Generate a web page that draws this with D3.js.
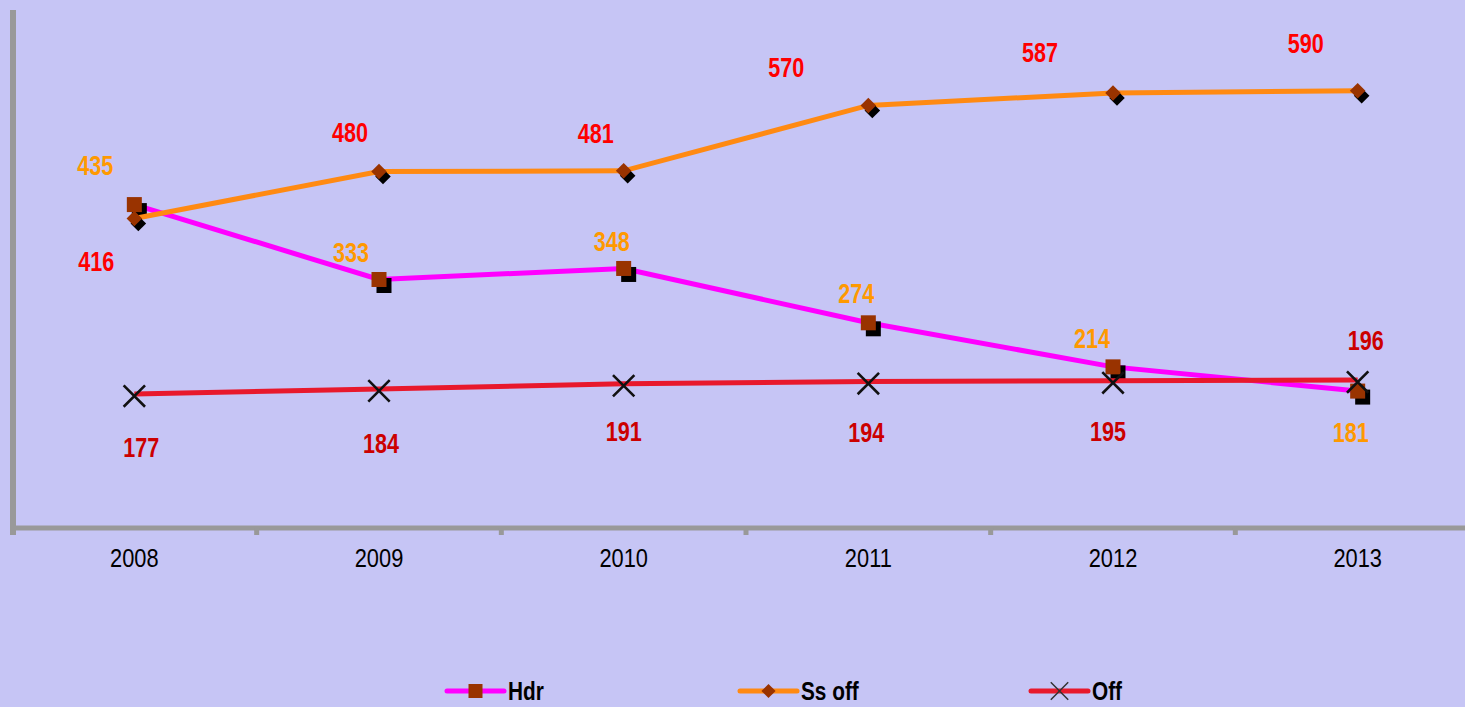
<!DOCTYPE html>
<html>
<head>
<meta charset="utf-8">
<script src="https://cdn.jsdelivr.net/npm/d3@7"></script>
<style>
  html, body { margin: 0; padding: 0; background: #c6c5f5; }
  svg { display: block; }
</style>
</head>
<body>
<svg id="chart" width="1465" height="707"></svg>
<script>
// ---- data ----
const years = ["2008", "2009", "2010", "2011", "2012", "2013"];
const hdr = [435, 333, 348, 274, 214, 181];
const ssOff = [416, 480, 481, 570, 587, 590];
const off = [177, 184, 191, 194, 195, 196];
const seriesNames = ["Hdr", "Ss off", "Off"];

// ---- label layout offsets (relative to the point, in px) ----
const hdrLabelOffsets = [[-39, -39], [-28, -27], [-12, -27], [-12, -29], [-21, -28], [-7, 42]];
const ssLabelOffsets = [[-38, 43], [-29, -39], [-28, -37], [-82, -38], [-73, -40], [-52, -47]];
const offLabelOffsets = [[7, 54], [2, 55], [0, 48], [-2, 51], [-5, 51], [8, -39]];

const W = 1465, H = 707;
const svg = d3.select("#chart");
svg.append("rect").attr("width", W).attr("height", H).attr("fill", "#c6c5f5");

const x = d3.scaleBand().domain(years).range([12, 1480]).padding(0);
const cx = d => x(d) + x.bandwidth() / 2;
const y = d3.scaleLinear().domain([0, 700]).range([524, 10]);

const axisColor = "#999999";
// Left axis line
svg.append("line").attr("x1", 13).attr("x2", 13).attr("y1", 10).attr("y2", 535)
  .attr("stroke", axisColor).attr("stroke-width", 6);
// Bottom axis line
svg.append("line").attr("x1", 10).attr("x2", W).attr("y1", 528).attr("y2", 528)
  .attr("stroke", axisColor).attr("stroke-width", 5);
// tick marks at category boundaries
svg.append("g").selectAll("line").data(years.slice(1)).join("line")
  .attr("x1", d => x(d)).attr("x2", d => x(d))
  .attr("y1", 528).attr("y2", 535)
  .attr("stroke", axisColor).attr("stroke-width", 5);

// Category labels via d3 axis
const xAxis = svg.append("g").attr("transform", "translate(0,528)")
  .call(d3.axisBottom(x).tickSize(0).tickPadding(0));
xAxis.select(".domain").remove();
xAxis.selectAll("text").each(function(d) {
  d3.select(this)
    .attr("y", null).attr("dy", null)
    .attr("transform", `translate(${x(d) + x.bandwidth() / 2 - x(d) - x.bandwidth() / 2},30) scale(0.84,1)`)
    .attr("font-family", "'Liberation Sans', Arial, sans-serif")
    .attr("font-size", 26)
    .attr("fill", "#000")
    .attr("text-anchor", "middle")
    .attr("dominant-baseline", "central");
});
// the tick group already positions at band center; reposition text relative to tick
xAxis.selectAll(".tick text").attr("transform", "translate(0,30) scale(0.84,1)");

const line = d3.line().x((d, i) => cx(years[i])).y(d => y(d));

function labelText(g, px, py, txt, color) {
  g.append("text")
    .attr("transform", `translate(${px},${py}) scale(0.8,1)`)
    .attr("text-anchor", "middle")
    .attr("dominant-baseline", "central")
    .attr("font-family", "'Liberation Sans', Arial, sans-serif")
    .attr("font-weight", "bold")
    .attr("font-size", 27)
    .attr("fill", color)
    .text(txt);
}

const brown = "#993300";
const sq = d3.symbol(d3.symbolSquare, 225)();
const dia = d3.symbol(d3.symbolSquare, 121)();
const times = d3.symbol(d3.symbolTimes, 300)();

// ---- Hdr ----
const gH = svg.append("g");
gH.append("path").datum(hdr).attr("d", line)
  .attr("fill", "none").attr("stroke", "#ff00ff").attr("stroke-width", 5);
gH.selectAll(".sh").data(hdr).join("path").attr("class", "sh")
  .attr("d", sq).attr("fill", "#000")
  .attr("transform", (d, i) => `translate(${cx(years[i]) + 5},${y(d) + 6})`);
gH.selectAll(".mk").data(hdr).join("path").attr("class", "mk")
  .attr("d", sq).attr("fill", brown)
  .attr("transform", (d, i) => `translate(${cx(years[i])},${y(d)})`);

// ---- Ss off ----
const gS = svg.append("g");
gS.append("path").datum(ssOff).attr("d", line)
  .attr("fill", "none").attr("stroke", "#ff8a12").attr("stroke-width", 5);
gS.selectAll(".sh").data(ssOff).join("path").attr("class", "sh")
  .attr("d", dia).attr("fill", "#000")
  .attr("transform", (d, i) => `translate(${cx(years[i]) + 4},${y(d) + 5}) rotate(45)`);
gS.selectAll(".mk").data(ssOff).join("path").attr("class", "mk")
  .attr("d", dia).attr("fill", brown)
  .attr("transform", (d, i) => `translate(${cx(years[i])},${y(d)}) rotate(45)`);

// ---- Off ----
const gO = svg.append("g");
gO.append("path").datum(off).attr("d", line)
  .attr("fill", "none").attr("stroke", "#e8192c").attr("stroke-width", 5);
gO.selectAll(".mk").data(off).join("path").attr("class", "mk")
  .attr("d", times).attr("fill", "none").attr("stroke", "#111").attr("stroke-width", 2.6)
  .attr("transform", (d, i) => `translate(${cx(years[i])},${y(d) + 2})`);

// ---- data labels ----
const gL = svg.append("g");
hdr.forEach((v, i) => labelText(gL, cx(years[i]) + hdrLabelOffsets[i][0], y(v) + hdrLabelOffsets[i][1], v, "#ff9900"));
ssOff.forEach((v, i) => labelText(gL, cx(years[i]) + ssLabelOffsets[i][0], y(v) + ssLabelOffsets[i][1], v, "#ff0000"));
off.forEach((v, i) => labelText(gL, cx(years[i]) + offLabelOffsets[i][0], y(v) + offLabelOffsets[i][1], v, "#cc0000"));

// ---- legend ----
const legendX = [447, 740, 1031];
const legendColors = ["#ff00ff", "#ff8a12", "#e8192c"];
const ly = 691;
const gLeg = svg.append("g");
seriesNames.forEach((name, i) => {
  const x0 = legendX[i], x1 = x0 + 57, xm = (x0 + x1) / 2;
  gLeg.append("line").attr("x1", x0).attr("x2", x1).attr("y1", ly).attr("y2", ly)
    .attr("stroke", legendColors[i]).attr("stroke-width", 5).attr("stroke-linecap", "round");
  if (i === 0) {
    gLeg.append("path").attr("d", d3.symbol(d3.symbolSquare, 196)()).attr("fill", brown)
      .attr("transform", `translate(${xm},${ly})`);
  } else if (i === 1) {
    gLeg.append("path").attr("d", d3.symbol(d3.symbolSquare, 100)()).attr("fill", brown)
      .attr("transform", `translate(${xm},${ly}) rotate(45)`);
  } else {
    gLeg.append("path").attr("d", d3.symbol(d3.symbolTimes, 200)()).attr("fill", "none")
      .attr("stroke", "#333").attr("stroke-width", 1.5)
      .attr("transform", `translate(${xm},${ly})`);
  }
  gLeg.append("text")
    .attr("transform", `translate(${x1 + 4},${ly}) scale(0.8,1)`)
    .attr("dominant-baseline", "central")
    .attr("font-family", "'Liberation Sans', Arial, sans-serif")
    .attr("font-weight", "bold")
    .attr("font-size", 26)
    .attr("fill", "#000")
    .text(name);
});
</script>
</body>
</html>
